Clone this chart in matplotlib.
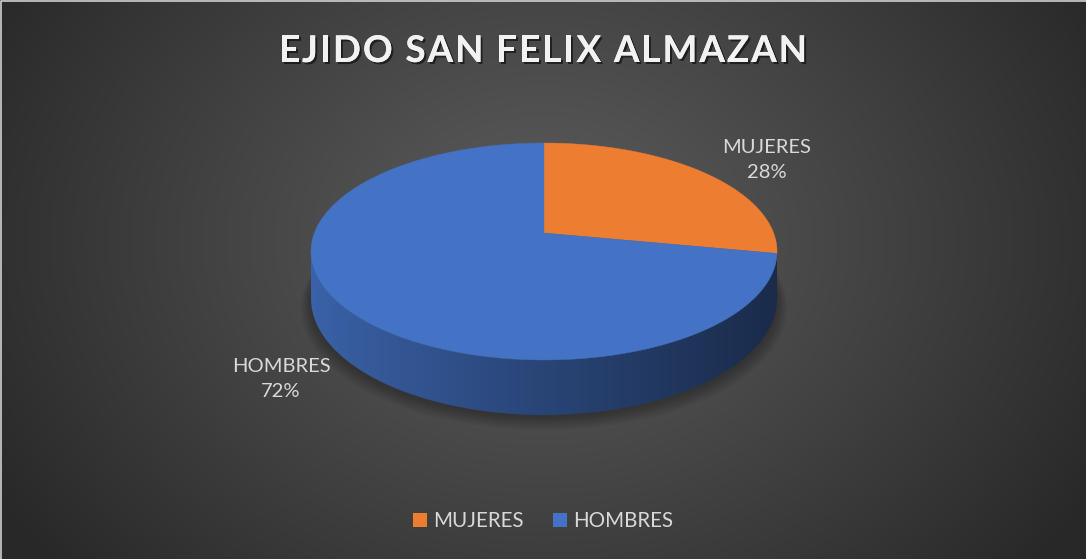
import numpy as np
import matplotlib.pyplot as plt
from matplotlib.patches import Polygon, Rectangle
from matplotlib import patheffects as pe
from matplotlib.font_manager import FontProperties

# data
title = 'EJIDO SAN FELIX ALMAZAN'
categories = ['MUJERES', 'HOMBRES']
values = [28, 72]
colors = ['#ED7D31', '#4472C4']
label_xy = [(767, 160), (281, 379)]

W, H = 1086, 559
fig = plt.figure(figsize=(W / 100, H / 100), dpi=100)
ax = fig.add_axes([0, 0, 1, 1])
ax.set_xlim(0, W)
ax.set_ylim(H, 0)
ax.axis('off')

# radial background
yy, xx = np.mgrid[0:H, 0:W]
d = np.hypot(xx - 543, (yy - 240) * 1.25)
d = np.clip(d / 640, 0, 1)
g = (92 - 52 * d ** 1.1) / 255
bg = np.dstack([g, g, g])
ax.imshow(bg, extent=(0, W, H, 0), zorder=0, interpolation='bilinear')
ax.plot([0.5, 0.5, W], [H, 0.5, 0.5], color='#d0d0d0', lw=1.2, zorder=10)

# pie geometry (pixels), simple perspective
CX, VY = 544, 233
A, Q, R = 229.6, -65.6, 0.1705
DK = 45.6


def rim(th, rho=1.0):
    s = rho * np.sin(th)
    dd = 1 + R * s
    return CX + A * rho * np.cos(th) / dd, (VY + Q * s) / dd


def depth(th):
    return DK / (1 + R * np.sin(th))


# soft shadow under the pie
tt = np.linspace(0, 2 * np.pi, 200)
for k in range(8):
    sx, sy = rim(tt, 1.0 + 0.006 * k)
    ax.fill(sx, sy + depth(tt) + 3 + k * 0.8, color='black', alpha=0.035, lw=0, zorder=1)

total = float(sum(values))
angles = [np.pi / 2]
for v in values:
    angles.append(angles[-1] - 2 * np.pi * v / total)

front_lo, front_hi = -np.pi + np.arcsin(R), -np.arcsin(R)
xl, xr = rim(front_lo)[0], rim(front_hi)[0]

for i, c in enumerate(colors):
    a0, a1 = angles[i + 1], angles[i]
    base = np.array(plt.matplotlib.colors.to_rgb(c))
    for k in (-1, 0, 1):
        lo = max(a0, front_lo + 2 * np.pi * k)
        hi = min(a1, front_hi + 2 * np.pi * k)
        if hi - lo <= 1e-4:
            continue
        th = np.linspace(lo, hi, 200)
        tx, ty = rim(th)
        bx, by = tx, ty + depth(th)
        poly = Polygon(np.column_stack([np.r_[tx, bx[::-1]], np.r_[ty, by[::-1]]]),
                       closed=True, facecolor='none', edgecolor='none')
        ax.add_patch(poly)
        t = np.linspace(0, 1, 300)
        f = 0.86 - 0.48 * t ** 0.9
        grad = np.clip(base[None, :] * f[:, None], 0, 1)[None, :, :]
        im = ax.imshow(grad, extent=(xl, xr, 430, 240), aspect='auto', zorder=2,
                       interpolation='bilinear')
        im.set_clip_path(poly)

for i, c in enumerate(colors):
    th = np.linspace(angles[i], angles[i + 1], 400)
    tx, ty = rim(th)
    ax.add_patch(Polygon(np.column_stack([np.r_[CX, tx], np.r_[VY, ty]]), closed=True,
                         facecolor=c, edgecolor=c, lw=0.3, zorder=3))

lab_font = ['Lato', 'DejaVu Sans']
for i, name in enumerate(categories):
    pct = '{:.0f}%'.format(100 * values[i] / total)
    ax.text(label_xy[i][0], label_xy[i][1], name + '\n' + pct, ha='center', va='center',
            color='#d9d9d9', fontsize=14.5, family=lab_font, linespacing=1.6, zorder=5)

# title with letter spacing
fp = FontProperties(family=lab_font, weight='bold', size=26.5)
renderer = fig.canvas.get_renderer()
widths = [renderer.get_text_width_height_descent(ch, fp, ismath=False)[0] for ch in title]
spacing = 2.0
tw = sum(widths) + spacing * (len(title) - 1)
x = 543 - tw / 2
for ch, w in zip(title, widths):
    ax.text(x, 62, ch, ha='left', va='baseline', fontproperties=fp, color='#f2f2f2', zorder=6,
            path_effects=[pe.withSimplePatchShadow(offset=(1.5, -1.5), shadow_rgbFace='black',
                                                   alpha=0.55), pe.Normal()])
    x += w + spacing

handles = [Rectangle((0, 0), 1, 1, facecolor=c, edgecolor='none') for c in colors]
leg = ax.legend(handles, categories, loc='center', bbox_to_anchor=(0.5, 1 - 521 / H), ncol=2,
                frameon=False, handlelength=0.7, handleheight=0.7, handletextpad=0.3,
                columnspacing=1.4, prop={'family': lab_font, 'size': 14.8})
for t in leg.get_texts():
    t.set_color('#d9d9d9')

fig.savefig('out.png', dpi=100)
